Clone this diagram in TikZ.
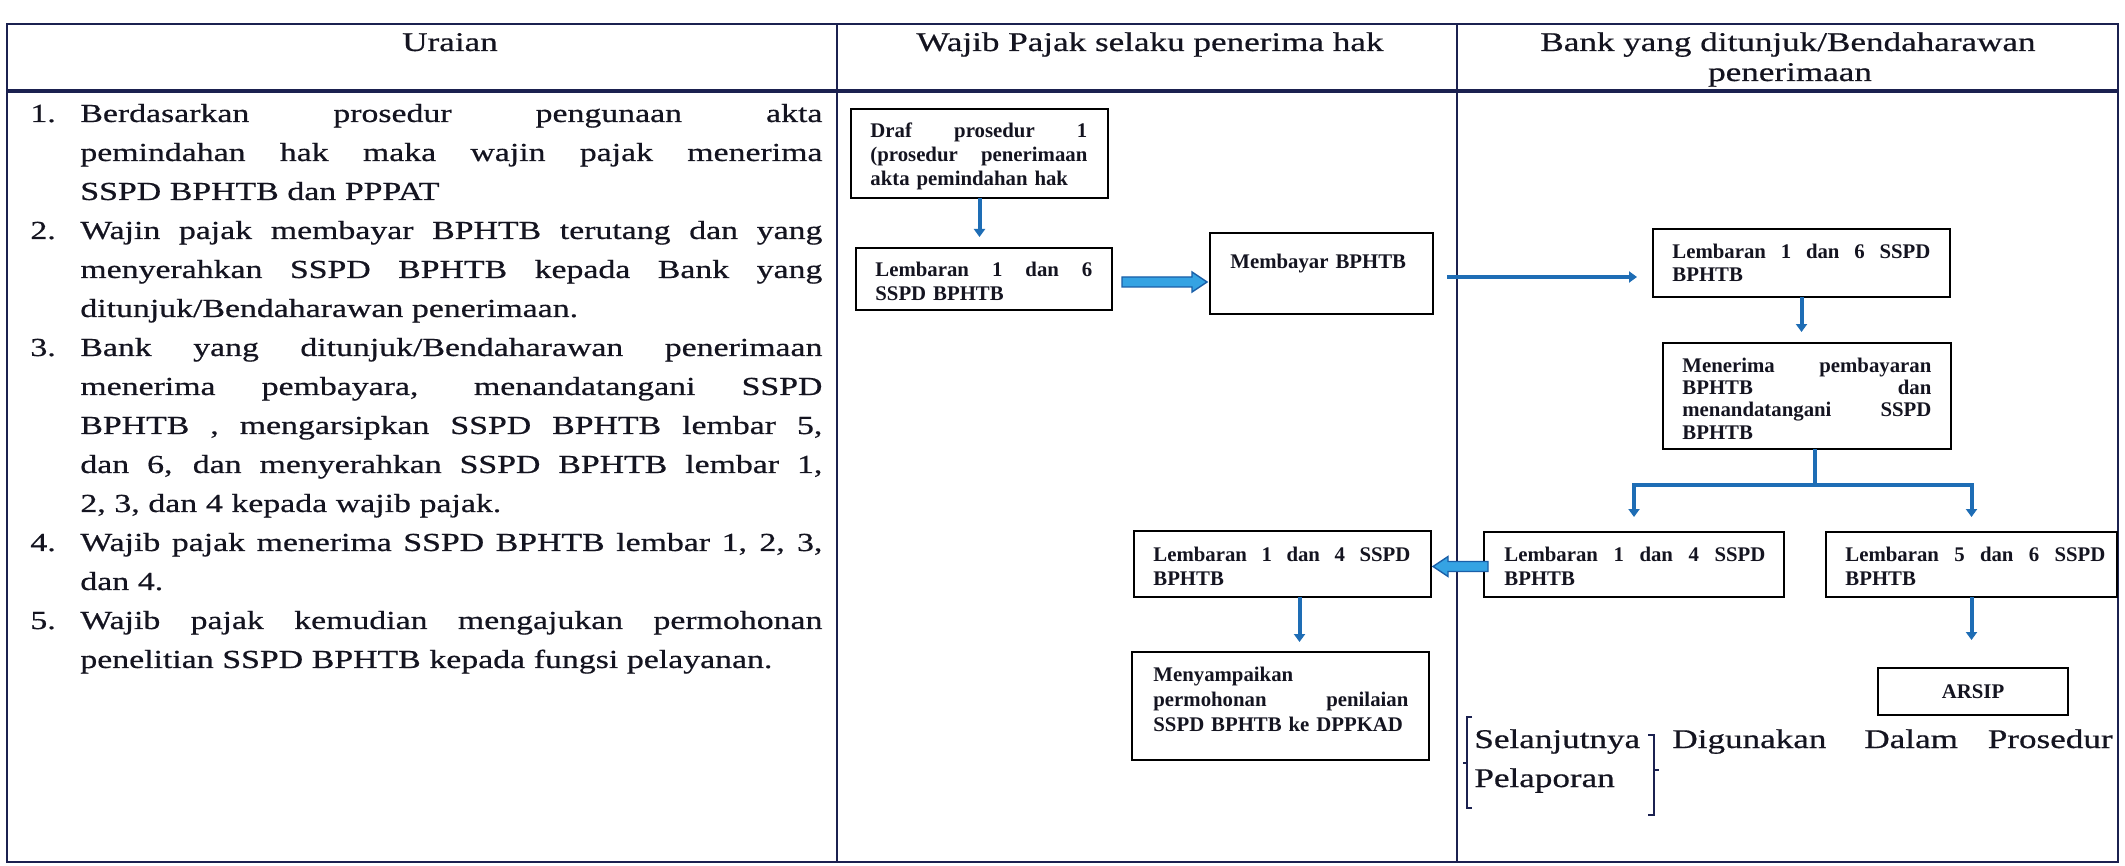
\documentclass[tikz,border=0pt]{standalone}
\usepackage{fontspec}
\setmainfont{Liberation Serif}
\newfontfamily\bodyf[FakeStretch=1.3,FakeBold=0.6]{Liberation Serif}
\newfontfamily\boxf{Liberation Serif}
\usetikzlibrary{arrows.meta,calc}
\definecolor{navy}{HTML}{1B2150}
\definecolor{cblue}{HTML}{1E6DB5}
\definecolor{ablue}{HTML}{35A3E3}
\definecolor{aedge}{HTML}{1A5FA8}
\definecolor{ink}{HTML}{141420}
\newcommand\jl[1]{\makebox[371pt][s]{\spaceskip=0pt\xspaceskip=0pt #1}}
\newcommand\bj[2]{\makebox[#1][s]{\spaceskip=0pt\xspaceskip=0pt #2}}
\newcommand\bx[5]{\node[bxs, anchor=north west, minimum width={(#4-#2)*0.5pt}, minimum height={(#5-#3)*0.5pt}] (#1) at (#2,#3) {};}
\newcommand\blockR[2]{\filldraw[fill=ablue, draw=aedge, line width=0.7pt] ($(#1)+(0,-5)$) -- ($(#2)+(-15,-5)$) -- ($(#2)+(-15,-10)$) -- (#2) -- ($(#2)+(-15,10)$) -- ($(#2)+(-15,5)$) -- ($(#1)+(0,5)$) -- cycle;}
\newcommand\blockL[2]{\filldraw[fill=ablue, draw=aedge, line width=0.7pt] ($(#1)+(0,-5)$) -- ($(#2)+(15,-5)$) -- ($(#2)+(15,-10)$) -- (#2) -- ($(#2)+(15,10)$) -- ($(#2)+(15,5)$) -- ($(#1)+(0,5)$) -- cycle;}
\begin{document}
\begin{tikzpicture}[x=0.5pt,y=-0.5pt,
  tline/.style={draw=navy, line width=1.1pt},
  bxs/.style={draw=black, line width=1.4pt, inner sep=0, outer sep=0, rectangle},
  btx/.style={anchor=base west, inner sep=0, align=left, text=ink, font=\boxf\bfseries\fontsize{10.4}{12}\selectfont},
  hdr/.style={inner sep=0, text=ink, font=\bodyf\fontsize{13.5}{19.5}\selectfont},
  big/.style={inner sep=0, text=ink, font=\bodyf\fontsize{13.5}{19.5}\selectfont},
  conn/.style={draw=cblue, line width=2pt, -{Triangle[length=4pt,width=5.5pt]}},
  cline/.style={draw=cblue, line width=2pt},
  brace/.style={draw=navy, line width=0.6pt}]
\useasboundingbox (0,0) rectangle (2125,866);
\fill[white] (0,0) rectangle (2125,866);

% table
\draw[tline] (7,24) rectangle (2118,862);
\draw[tline, line width=1.6pt] (7,91) -- (2118,91);
\draw[tline] (837,24) -- (837,862);
\draw[tline] (1457,24) -- (1457,862);

% header
\node[hdr, anchor=base] (h1) at (450,51) {Uraian};
\node[hdr, anchor=base] (h2) at (1150,51) {Wajib Pajak selaku penerima hak};
\node[hdr, anchor=base] (h3a) at (1788,51) {Bank yang ditunjuk/Bendaharawan};
\node[hdr, anchor=base] (h3b) at (1790,81) {penerimaan};

% body list
\node[anchor=base west, inner sep=0, text width=396pt, align=left, text=ink, font=\bodyf\fontsize{13}{19.5}\selectfont] (uraian) at (30,122) {%
\makebox[25pt][l]{1.}\jl{Berdasarkan prosedur pengunaan akta}\\
\hspace*{25pt}\jl{pemindahan hak maka wajin pajak menerima}\\
\hspace*{25pt}SSPD BPHTB dan PPPAT\\
\makebox[25pt][l]{2.}\jl{Wajin pajak membayar BPHTB terutang dan yang}\\
\hspace*{25pt}\jl{menyerahkan SSPD BPHTB kepada Bank yang}\\
\hspace*{25pt}ditunjuk/Bendaharawan penerimaan.\\
\makebox[25pt][l]{3.}\jl{Bank yang ditunjuk/Bendaharawan penerimaan}\\
\hspace*{25pt}\jl{menerima pembayara, menandatangani SSPD}\\
\hspace*{25pt}\jl{BPHTB , mengarsipkan SSPD BPHTB lembar 5,}\\
\hspace*{25pt}\jl{dan 6, dan menyerahkan SSPD BPHTB lembar 1,}\\
\hspace*{25pt}2, 3, dan 4 kepada wajib pajak.\\
\makebox[25pt][l]{4.}\jl{Wajib pajak menerima SSPD BPHTB lembar 1, 2, 3,}\\
\hspace*{25pt}dan 4.\\
\makebox[25pt][l]{5.}\jl{Wajib pajak kemudian mengajukan permohonan}\\
\hspace*{25pt}penelitian SSPD BPHTB kepada fungsi pelayanan.};

% box texts
\node[btx, text width=108.5pt] (tdraf) at (870,138) {\bj{108.5pt}{Draf prosedur 1}\\\bj{108.5pt}{(prosedur penerimaan}\\akta pemindahan hak};
\node[btx, text width=108.5pt] (tlsa) at (875,277) {\bj{108.5pt}{Lembaran 1 dan 6}\\SSPD BPHTB};
\node[btx, text width=100pt] (tmemb) at (1230,269) {Membayar BPHTB};
\node[btx, text width=129pt] (tlsb) at (1672,258) {\bj{129pt}{Lembaran 1 dan 6 SSPD}\\BPHTB};
\node[btx, text width=124.5pt, font=\boxf\bfseries\fontsize{10.4}{11.2}\selectfont] (tmener) at (1682,372) {\bj{124.5pt}{Menerima pembayaran}\\\bj{124.5pt}{BPHTB dan}\\\bj{124.5pt}{menandatangani SSPD}\\BPHTB};
\node[btx, text width=130.5pt] (tlra) at (1504,561) {\bj{130.5pt}{Lembaran 1 dan 4 SSPD}\\BPHTB};
\node[btx, text width=130pt] (tlrb) at (1845,561) {\bj{130pt}{Lembaran 5 dan 6 SSPD}\\BPHTB};
\node[btx, text width=128.5pt] (tlla) at (1153,561) {\bj{128.5pt}{Lembaran 1 dan 4 SSPD}\\BPHTB};
\node[btx, text width=127.5pt, font=\boxf\bfseries\fontsize{10.4}{12.5}\selectfont] (tmeny) at (1153,681) {Menyampaikan\\\bj{127.5pt}{permohonan penilaian}\\SSPD BPHTB ke DPPKAD};

% boxes
\bx{draf}{851}{109}{1108}{198}
\bx{lsa}{856}{248}{1112}{310}
\bx{memb}{1210}{233}{1433}{314}
\bx{lsb}{1653}{229}{1950}{297}
\bx{mener}{1663}{343}{1951}{449}
\bx{lra}{1484}{532}{1784}{597}
\bx{lrb}{1826}{532}{2117}{597}
\bx{lla}{1134}{531}{1431}{597}
\bx{meny}{1132}{652}{1429}{760}
\bx{arsip}{1878}{668}{2068}{715}
\node[inner sep=0, text=ink, font=\boxf\bfseries\fontsize{10.4}{12}\selectfont] (tarsip) at (arsip.center) {ARSIP};

% connectors
\draw[conn, shorten >=5.5pt] (draf.south) -- (draf.south |- lsa.north);
\draw[conn, shorten >=5.5pt] (lsb.south) -- (lsb.south |- mener.north);
\draw[conn, shorten >=14pt] (lrb.south) -- (lrb.south |- arsip.north);
\coordinate (llax) at ($(lla.south)+(17,0)$);
\draw[conn, shorten >=5pt] (llax) -- (llax |- meny.north);
\coordinate (mtop) at ($(mener.south)+(8,0)$);
\coordinate (brk) at ($(mener.south)+(8,36)$);
\draw[cline] (mtop) -- (brk);
\draw[conn, shorten >=7.5pt] (brk) -| (lra.north);
\draw[conn, shorten >=7.5pt] (brk) -| (lrb.north);
\coordinate (mst) at ($(memb.east)+(14,3.5)$);
\draw[conn, shorten >=8pt] (mst) -- (lsb.west |- mst);

% block arrows
\coordinate (ba1s) at ($(lsa.east)+(10,3)$);
\coordinate (ba1t) at (memb.west |- ba1s);
\coordinate (ba1e) at ($(ba1t)+(-3,0)$);
\blockR{ba1s}{ba1e}
\coordinate (ba2s) at ($(lra.west)+(4,2)$);
\coordinate (ba2t) at (lla.east |- ba2s);
\coordinate (ba2e) at ($(ba2t)+(2,0)$);
\blockL{ba2s}{ba2e}

% closing note
\node[big, anchor=base west] (w1) at (1474,748) {Selanjutnya};
\node[big, anchor=base west] (w2) at (1672,748) {Digunakan};
\node[big, anchor=base west] (w3) at (1864,748) {Dalam};
\node[big, anchor=base east] (w4) at (2113,748) {Prosedur};
\node[big, anchor=base west] (w5) at (1474,787) {Pelaporan};
\draw[brace] (1472,717) -- (1467,717) -- (1467,808) -- (1472,808);
\draw[brace] (1467,763) -- (1463,763);
\draw[brace] (1648,735) -- (1654,735) -- (1654,815) -- (1648,815);
\draw[brace] (1654,770) -- (1659,770);
\end{tikzpicture}
\end{document}
